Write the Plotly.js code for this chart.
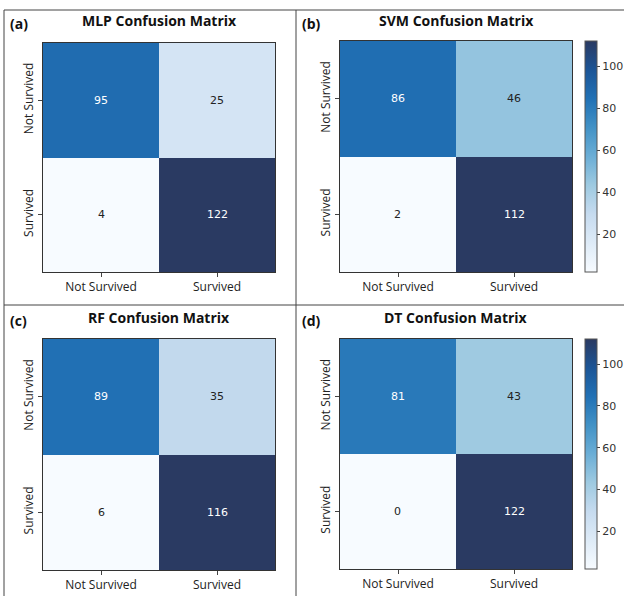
<!DOCTYPE html>
<html><head><meta charset="utf-8">
<script src="https://cdn.plot.ly/plotly-3.0.1.min.js"></script>
<style>html,body{margin:0;padding:0;background:#fff}#plot{width:624px;height:596px}</style>
</head><body><div id="plot"></div>
<script>
const classes = ['Not Survived', 'Survived'];
const modelNames = ['MLP', 'SVM', 'RF', 'DT'];
const panelLabels = ['(a)', '(b)', '(c)', '(d)'];
const mlpMatrix = [[95, 25], [4, 122]];
const svmMatrix = [[86, 46], [2, 112]];
const rfMatrix = [[89, 35], [6, 116]];
const dtMatrix = [[81, 43], [0, 122]];
const colorbarTicks = [20, 40, 60, 80, 100];

const matrices = [mlpMatrix, svmMatrix, rfMatrix, dtMatrix];
const blues = [
  [0.0, '#f7fbff'], [0.125, '#deebf7'], [0.25, '#c6dbef'], [0.375, '#9ecae1'],
  [0.5, '#6baed6'], [0.625, '#4292c6'], [0.75, '#2171b5'], [0.875, '#1c5596'], [1.0, '#2a3a62']
];
const W = 624, H = 596;
const boxes = [
  {x0: 43, x1: 275, y0: 43, y1: 272},
  {x0: 340, x1: 572, y0: 41, y1: 272},
  {x0: 43, x1: 275, y0: 339, y1: 570},
  {x0: 340, x1: 572, y0: 339, y1: 569}
];
const ranges = [[4, 122], [2, 112], [6, 116], [2, 112]];
const showBar = [false, true, false, true];

const data = [];
const layout = {
  width: W, height: H, margin: {l: 0, r: 0, t: 0, b: 0},
  paper_bgcolor: '#fff', plot_bgcolor: '#fff', showlegend: false,
  font: {family: 'Open Sans, sans-serif', size: 12, color: '#222'},
  annotations: [], shapes: []
};
matrices.forEach((m, i) => {
  const b = boxes[i];
  const n = i === 0 ? '' : String(i + 1);
  const tr = {
    type: 'heatmap', z: m, x: classes, y: classes,
    xaxis: 'x' + n, yaxis: 'y' + n,
    colorscale: blues, zmin: ranges[i][0], zmax: ranges[i][1],
    showscale: showBar[i], hoverinfo: 'skip', xgap: 0, ygap: 0
  };
  if (showBar[i]) {
    tr.colorbar = {
      x: 585 / W, xanchor: 'left', y: 1 - b.y0 / H, yanchor: 'top',
      len: (b.y1 - b.y0) / H, lenmode: 'fraction', thickness: 12,
      outlinecolor: '#555', outlinewidth: 1,
      tickvals: colorbarTicks, ticks: 'outside', ticklen: 3, tickcolor: '#444',
      tickfont: {size: 11, color: '#333', family: 'DejaVu Sans, sans-serif'}, xpad: 0, ypad: 0
    };
  }
  data.push(tr);
  const axCommon = {
    showline: true, mirror: true, linecolor: '#333', linewidth: 1,
    showgrid: false, zeroline: false, ticks: 'outside', ticklen: 4, tickcolor: '#444',
    tickfont: {size: 12, color: '#222', family: 'Open Sans, sans-serif'}, fixedrange: true
  };
  layout['xaxis' + n] = Object.assign({}, axCommon, {
    domain: [b.x0 / W, b.x1 / W], anchor: 'y' + n, type: 'category'
  });
  layout['yaxis' + n] = Object.assign({}, axCommon, {
    domain: [1 - b.y1 / H, 1 - b.y0 / H], anchor: 'x' + n, type: 'category',
    autorange: 'reversed', tickangle: -90
  });
  const [lo, hi] = ranges[i];
  m.forEach((row, r) => row.forEach((v, c) => {
    const frac = (v - lo) / (hi - lo);
    layout.annotations.push({
      xref: 'x' + n, yref: 'y' + n, x: classes[c], y: classes[r], text: String(v),
      showarrow: false, font: {size: 11, color: frac > 0.55 ? '#ffffff' : '#222222', family: 'DejaVu Sans, sans-serif'}
    });
  }));
  const cx = (b.x0 + b.x1) / 2 / W;
  layout.annotations.push({
    xref: 'paper', yref: 'paper', x: cx, xanchor: 'center', y: 1 - (i < 2 ? 21 : 318) / H, yanchor: 'middle',
    text: '<b>' + modelNames[i] + ' Confusion Matrix</b>', showarrow: false,
    font: {size: 14, color: '#111', family: 'Open Sans, sans-serif'}
  });
  layout.annotations.push({
    xref: 'paper', yref: 'paper', x: (i % 2 === 0 ? 8 : 300) / W, xanchor: 'left',
    y: 1 - (i < 2 ? 23 : 320) / H, yanchor: 'middle',
    text: '<b>' + panelLabels[i] + '</b>', showarrow: false,
    font: {size: 14, color: '#111', family: 'Open Sans, sans-serif'}
  });
});
const line = {color: '#444', width: 1};
layout.shapes.push({type: 'line', xref: 'paper', yref: 'paper', x0: 4 / W, x1: 1, y0: 1 - 10 / H, y1: 1 - 10 / H, line});
layout.shapes.push({type: 'line', xref: 'paper', yref: 'paper', x0: 4 / W, x1: 4 / W, y0: 0, y1: 1 - 10 / H, line});
layout.shapes.push({type: 'line', xref: 'paper', yref: 'paper', x0: 296 / W, x1: 296 / W, y0: 0, y1: 1 - 10 / H, line});
layout.shapes.push({type: 'line', xref: 'paper', yref: 'paper', x0: 4 / W, x1: 1, y0: 1 - 305 / H, y1: 1 - 305 / H, line});
Plotly.newPlot('plot', data, layout, {staticPlot: true, displayModeBar: false});
</script></body></html>
